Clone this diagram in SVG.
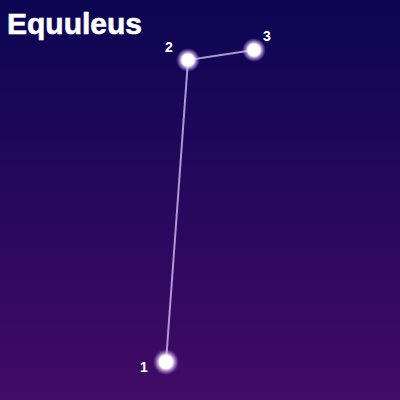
<svg xmlns="http://www.w3.org/2000/svg" width="400" height="400" viewBox="0 0 400 400">
<defs>
<linearGradient id="bg" x1="0" y1="0" x2="0" y2="1">
<stop offset="0" stop-color="#0b0552"/>
<stop offset="1" stop-color="#420b66"/>
</linearGradient>
<radialGradient id="glow">
<stop offset="0" stop-color="#ffffff" stop-opacity="1"/>
<stop offset="0.5" stop-color="#ffffff" stop-opacity="1"/>
<stop offset="0.65" stop-color="#f0d8ff" stop-opacity="0.7"/>
<stop offset="1" stop-color="#c080ff" stop-opacity="0"/>
</radialGradient>
<style>
.lbl{font-family:"Liberation Sans",Arial,sans-serif;font-weight:bold;font-size:14px;fill:#ffffff}
.title{font-family:"Liberation Sans",Arial,sans-serif;font-weight:bold;font-size:30px;fill:#ffffff;stroke:#ffffff;stroke-width:0.6}
.con{stroke:#c8b0e8;stroke-width:2;fill:none;stroke-opacity:0.85}
</style>
</defs>
<rect width="400" height="400" fill="url(#bg)"/>
<text class="title" x="7" y="34">Equuleus</text>
<g id="connectors">
<line class="con" x1="166" y1="362" x2="188" y2="60"/>
<line class="con" x1="188" y1="60" x2="254" y2="50"/>
</g>
<g id="star1">
<circle cx="166" cy="362" r="13" fill="url(#glow)"/>
<text class="lbl" x="140" y="372">1</text>
</g>
<g id="star2">
<circle cx="188" cy="60" r="12" fill="url(#glow)"/>
<text class="lbl" x="165" y="52">2</text>
</g>
<g id="star3">
<circle cx="254" cy="50" r="12" fill="url(#glow)"/>
<text class="lbl" x="263" y="41">3</text>
</g>
</svg>
